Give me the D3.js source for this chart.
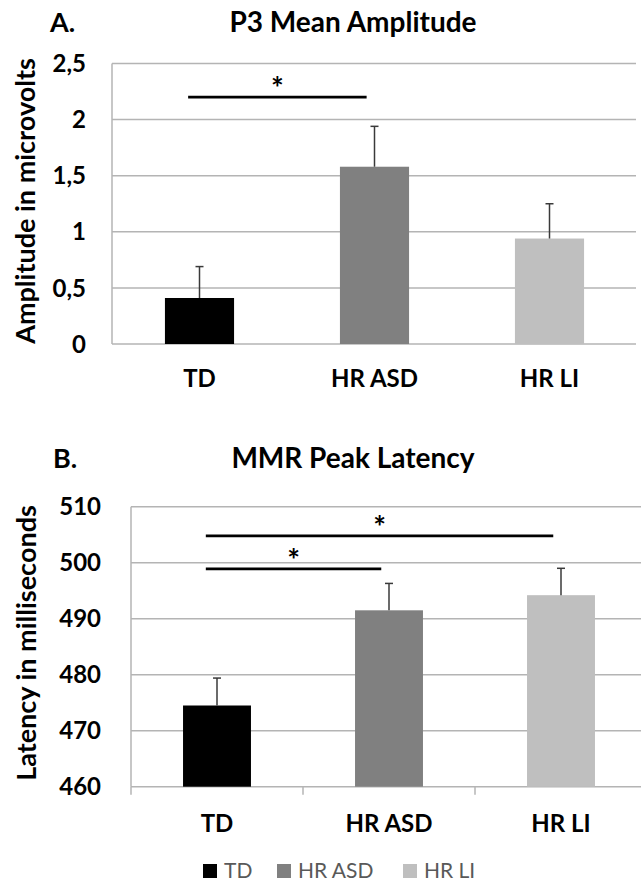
<!DOCTYPE html>
<html>
<head>
<meta charset="utf-8">
<script src="https://cdn.jsdelivr.net/npm/d3@7"></script>
<style>
  body { margin: 0; background: #fff; }
  svg text { font-family: Lato, "Open Sans", sans-serif; }
</style>
</head>
<body>
<div id="graph"></div>
<script>
// groups + colours
var groups = ["TD", "HR ASD", "HR LI"];
var groupColors = ["#000000", "#808080", "#bfbfbf"];

// A. P3 mean amplitude (microvolts), bar top and top of error bar
var p3Mean = [0.41, 1.58, 0.94];
var p3ErrTop = [0.69, 1.94, 1.25];
var p3Ticks = [0, 0.5, 1, 1.5, 2, 2.5];
var p3Sig = [{ from: "TD", to: "HR ASD", y: 2.2 }];

// B. MMR peak latency (ms)
var mmrMean = [474.5, 491.5, 494.2];
var mmrErrTop = [479.4, 496.3, 499.0];
var mmrTicks = [460, 470, 480, 490, 500, 510];
var mmrSig = [
  { from: "TD", to: "HR LI", y: 504.8 },
  { from: "TD", to: "HR ASD", y: 498.9 }
];

var w = 641, h = 881;

var svg = d3.select("#graph")
  .append("svg")
  .attr("width", w)
  .attr("height", h);

function drawPanel(o) {
  var xScale = d3.scaleBand()
    .domain(groups)
    .range([o.left, o.left + o.band * groups.length])
    .paddingInner(0)
    .paddingOuter(0);
  var bw = xScale.bandwidth();

  var yScale = d3.scaleLinear()
    .domain(o.domain)
    .range([o.bottom, o.top]);

  var g = svg.append("g");

  // gridlines
  g.selectAll(".grid")
    .data(o.ticks)
    .enter().append("line")
    .attr("x1", o.left)
    .attr("x2", o.gridRight)
    .attr("y1", function(d) { return yScale(d); })
    .attr("y2", function(d) { return yScale(d); })
    .attr("stroke", "#b4b4b4")
    .attr("stroke-width", 1.5);

  // left axis line
  g.append("line")
    .attr("x1", o.left).attr("x2", o.left)
    .attr("y1", yScale(o.domain[1])).attr("y2", yScale(o.domain[0]))
    .attr("stroke", "#b4b4b4")
    .attr("stroke-width", 1.5);

  // category tick marks (only panel B has them)
  if (o.tickMarks) {
    g.selectAll(".xtick")
      .data(groups)
      .enter().append("line")
      .attr("x1", function(d) { return xScale(d); })
      .attr("x2", function(d) { return xScale(d); })
      .attr("y1", o.bottom)
      .attr("y2", o.bottom + 8)
      .attr("stroke", "#b4b4b4")
      .attr("stroke-width", 1.5);
  }

  // y tick labels
  g.selectAll(".ylab")
    .data(o.ticks)
    .enter().append("text")
    .attr("x", o.labelRight)
    .attr("y", function(d) { return yScale(d); })
    .attr("dy", "0.36em")
    .attr("text-anchor", "end")
    .attr("font-size", "24px")
    .attr("font-weight", "bold")
    .attr("fill", "#000")
    .text(function(d) { return String(d).replace(".", ","); });

  // bars
  var barW = bw * 0.395;
  g.selectAll(".bar")
    .data(o.values)
    .enter().append("rect")
    .attr("x", function(d, i) { return xScale(groups[i]) + (bw - barW) / 2; })
    .attr("y", function(d) { return yScale(d); })
    .attr("width", barW)
    .attr("height", function(d) { return o.bottom - yScale(d); })
    .attr("fill", function(d, i) { return groupColors[i]; });

  // error bars (upper only)
  o.errTop.forEach(function(e, i) {
    var cx = xScale(groups[i]) + bw / 2;
    g.append("line")
      .attr("x1", cx).attr("x2", cx)
      .attr("y1", yScale(o.values[i])).attr("y2", yScale(e))
      .attr("stroke", "#3a3a3a")
      .attr("stroke-width", 1.5);
    g.append("line")
      .attr("x1", cx - 4).attr("x2", cx + 4)
      .attr("y1", yScale(e)).attr("y2", yScale(e))
      .attr("stroke", "#3a3a3a")
      .attr("stroke-width", 1.5);
  });

  // significance lines + stars
  o.sig.forEach(function(s) {
    var x1 = xScale(s.from) + bw * 0.435;
    var x2 = xScale(s.to) + bw * 0.455;
    g.append("line")
      .attr("x1", x1).attr("x2", x2)
      .attr("y1", yScale(s.y)).attr("y2", yScale(s.y))
      .attr("stroke", "#000")
      .attr("stroke-width", 2.8);
    g.append("text")
      .attr("x", (x1 + x2) / 2)
      .attr("y", yScale(s.y) + 2)
      .attr("text-anchor", "middle")
      .attr("font-size", "30px")
      .attr("font-weight", "bold")
      .attr("fill", "#000")
      .text("*");
  });

  // x category labels
  g.selectAll(".xlab")
    .data(groups)
    .enter().append("text")
    .attr("x", function(d) { return xScale(d) + bw / 2; })
    .attr("y", o.xLabelY)
    .attr("text-anchor", "middle")
    .attr("font-size", "24px")
    .attr("font-weight", "bold")
    .attr("fill", "#000")
    .text(function(d) { return d; });

  // y axis title
  g.append("text")
    .attr("transform", "translate(" + o.yTitleX + "," + o.yTitleY + ") rotate(-90)")
    .attr("text-anchor", "middle")
    .attr("dy", "0.35em")
    .attr("font-size", "27px")
    .attr("font-weight", "bold")
    .attr("fill", "#000")
    .text(o.yTitle);

  // panel letter + title
  g.append("text")
    .attr("x", o.letterX)
    .attr("y", o.titleY)
    .attr("font-size", "27px")
    .attr("font-weight", "bold")
    .attr("fill", "#000")
    .text(o.letter);

  g.append("text")
    .attr("x", 353)
    .attr("y", o.titleY)
    .attr("text-anchor", "middle")
    .attr("font-size", "28px")
    .attr("font-weight", "bold")
    .attr("fill", "#000")
    .text(o.title);
}

drawPanel({
  letter: "A.", title: "P3 Mean Amplitude", titleY: 32, letterX: 50,
  yTitle: "Amplitude in microvolts", yTitleX: 26, yTitleY: 201,
  values: p3Mean, errTop: p3ErrTop, ticks: p3Ticks, sig: p3Sig,
  domain: [0, 2.5], top: 63.5, bottom: 344,
  left: 112, band: 175, gridRight: 636,
  labelRight: 86, xLabelY: 387, tickMarks: false
});

drawPanel({
  letter: "B.", title: "MMR Peak Latency", titleY: 468, letterX: 53,
  yTitle: "Latency in milliseconds", yTitleX: 27, yTitleY: 643,
  values: mmrMean, errTop: mmrErrTop, ticks: mmrTicks, sig: mmrSig,
  domain: [460, 510], top: 506.7, bottom: 786.7,
  left: 131, band: 172, gridRight: 641,
  labelRight: 101, xLabelY: 832, tickMarks: true
});

// legend
var legendX = [203, 277, 403];
var legend = svg.append("g");
groups.forEach(function(gname, i) {
  legend.append("rect")
    .attr("x", legendX[i])
    .attr("y", 864)
    .attr("width", 14)
    .attr("height", 14)
    .attr("fill", groupColors[i]);
  legend.append("text")
    .attr("x", legendX[i] + 21)
    .attr("y", 878)
    .attr("font-size", "21px")
    .attr("fill", "#595959")
    .text(gname);
});
</script>
</body>
</html>
